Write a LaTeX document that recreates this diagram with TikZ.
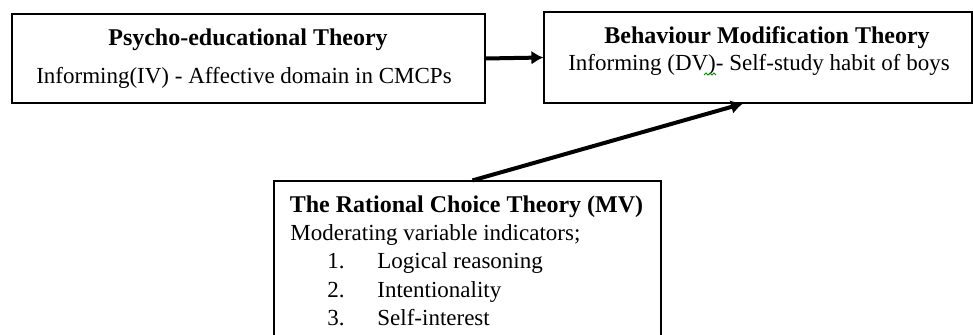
\documentclass[tikz,border=0pt]{standalone}
\usepackage{fontspec}
\setmainfont{Liberation Serif}
\usetikzlibrary{arrows.meta}

\begin{document}
\begin{tikzpicture}[
    x=0.5pt, y=-0.5pt, % 1 unit = 1 pixel of the reference
    box/.style={draw, line width=0.6pt, inner sep=0pt},
    title/.style={font=\fontsize{12}{14}\selectfont\bfseries, inner sep=0pt},
    body/.style={font=\fontsize{11.5}{13.5}\selectfont, inner sep=0pt},
    listitem/.style={body, anchor=west, text height=1.6ex, text depth=0.5ex},
    arrow/.style={line width=2pt, -{Latex[length=6pt,width=7pt]}},
    ]

    % --- frame ---
    \clip (0,0) rectangle (973,335);

    % --- boxes ---
    \node[box, minimum width=236.5pt, minimum height=44.5pt] (psycho) at (248.5,58.5) {};
    \node[box, minimum width=214pt, minimum height=45.5pt] (behaviour) at (758,57.5) {};
    \node[box, minimum width=193.5pt, minimum height=90pt] (rational) at (467.5,271) {};

    % --- texts of the left box ---
    \node[title] (psychoTitle) at (248,40) {Psycho-educational Theory};
    \node[body] (psychoLine) at (244,78) {Informing(IV) - Affective domain in CMCPs};

    % --- texts of the right box ---
    \node[title] (behaviourTitle) at (767,38) {Behaviour Modification Theory};
    \node[body] (behaviourLine) at (759,65) {Informing (DV)- Self-study habit of boys};
    % green squiggle under (DV)
    \draw[green!55!black, line width=0.4pt] (704,75) -- (706,73) -- (708,75) -- (710,73) -- (712,75) -- (714,73) -- (716,75);

    % --- texts of the lower box ---
    \node[title] (rationalTitle) at (466.5,207) {The Rational Choice Theory (MV)};
    \node[body, anchor=west] (rationalLine) at (290,235) {Moderating variable indicators;};
    \foreach \n/\txt/\yy in {1/Logical reasoning/263, 2/Intentionality/292, 3/Self-interest/320} {
        \node[listitem] (num\n) at (327,\yy) {\n.};
        \node[listitem] (item\n) at (377,\yy) {\txt};
    }

    % --- arrows ---
    \draw[arrow] (psycho.east) -- (behaviour.west);
    \draw[arrow] ([xshift=2.5pt]rational.north) -- ([xshift=-7.5pt]behaviour.south);

\end{tikzpicture}
\end{document}
